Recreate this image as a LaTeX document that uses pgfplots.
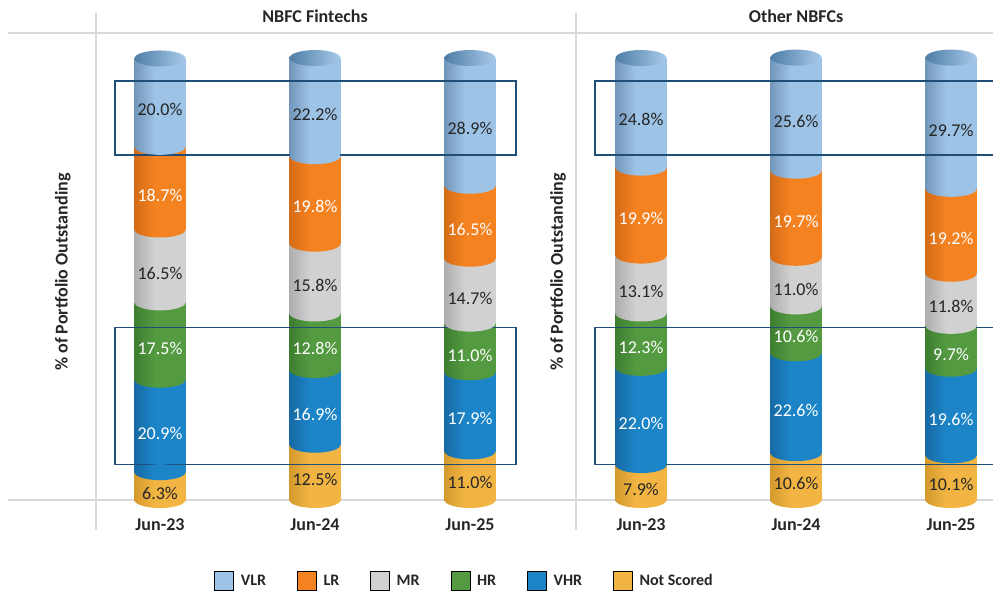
\documentclass[border=0pt]{standalone}
\usepackage{pgfplots}
\pgfplotsset{compat=1.18}
\usepackage{pgfplotstable}
\usepackage{fontspec}
\setmainfont{Carlito}

\definecolor{vlr}{HTML}{9DC3E6}\definecolor{vlrD}{HTML}{7397BA}
\definecolor{lr}{HTML}{F58220}\definecolor{lrD}{HTML}{D46C17}
\definecolor{mr}{HTML}{D0D1D0}\definecolor{mrD}{HTML}{ADAEAD}
\definecolor{hr}{HTML}{539A41}\definecolor{hrD}{HTML}{3F7E30}
\definecolor{vhr}{HTML}{1C85C8}\definecolor{vhrD}{HTML}{176BA5}
\definecolor{ns}{HTML}{F2B544}\definecolor{nsD}{HTML}{D49A2C}
\definecolor{capD}{HTML}{4F7EA6}\definecolor{capL}{HTML}{A8CAEA}
\definecolor{gridc}{HTML}{D9D9D9}
\definecolor{boxc}{HTML}{1F4E79}
\definecolor{txt}{HTML}{262626}

% left side darker, rest flat
\newcommand\cylshade[3]{\pgfdeclarehorizontalshading{#1}{100bp}{color(0bp)=(#3); color(25bp)=(#3); color(45bp)=(#2); color(75bp)=(#2); color(100bp)=(#2)}}
\cylshade{shVLR}{vlr}{vlrD}
\cylshade{shLR}{lr}{lrD}
\cylshade{shMR}{mr}{mrD}
\cylshade{shHR}{hr}{hrD}
\cylshade{shVHR}{vhr}{vhrD}
\cylshade{shNS}{ns}{nsD}
\pgfdeclarehorizontalshading{shCAP}{100bp}{color(0bp)=(capD); color(25bp)=(capD); color(75bp)=(capL); color(100bp)=(capL)}

\tikzset{cylsh/.code={\def\cylsh{#1}}}
\def\cylsh{shVLR}
\pgfdeclareplotmark{cyl}{%
  \pgfpathellipse{\pgfpointorigin}{\pgfqpoint{25.5pt}{0pt}}{\pgfqpoint{0pt}{8pt}}%
  \pgfshadepath{\cylsh}{0}%
  \pgfusepath{discard}}

\pgfplotstableread{
x NS VHR HR MR LR VLR
0 6.3 20.9 17.5 16.5 18.7 20.0
1 12.5 16.9 12.8 15.8 19.8 22.2
2 11.0 17.9 11.0 14.7 16.5 28.9
}\fintech
\pgfplotstableread{
x NS VHR HR MR LR VLR
0 7.9 22.0 12.3 13.1 19.9 24.8
1 10.6 22.6 10.6 11.0 19.7 25.6
2 10.1 19.6 9.7 11.8 19.2 29.7
}\others

\newcommand\lblfont{\fontsize{18}{20}\selectfont}
\pgfplotsset{
  cylbar/.style={ybar, bar width=51pt, bar shift=0pt, draw=none, shade, shading=#1},
  cylcap/.style={only marks, mark=cyl, cylsh=#1},
  cyllab/.style={draw=none, mark=none, point meta=explicit,
    nodes near coords={\pgfmathprintnumber[fixed,fixed zerofill,precision=1,assume math mode=true]{\pgfplotspointmeta}\%},
    every node near coord/.append style={anchor=center, yshift=-7pt, text=#1, font=\lblfont}},
  panel/.style={scale only axis, width=480pt, height=467pt, anchor=south west,
    ymin=0, ymax=105.66, clip=false,
    axis line style={draw=none}, major tick length=0pt, ytick=\empty,
    xtick={0,1,2}, xticklabels={Jun-23,Jun-24,Jun-25},
    xticklabel style={font=\bfseries\lblfont, text=txt, anchor=center, yshift=-25pt},
    ylabel={\% of Portfolio Outstanding},
    ylabel style={font=\bfseries\lblfont, text=txt, anchor=center}},
}

% one cylinder (category #2 of table #1), top segment first
\newcommand\cylone[2]{%
  \addplot[cylbar=shVLR, restrict x to domain=#2:#2] table[x=x, y expr=\thisrow{NS}+\thisrow{VHR}+\thisrow{HR}+\thisrow{MR}+\thisrow{LR}+\thisrow{VLR}]{#1};
  \addplot[cylcap=shCAP, restrict x to domain=#2:#2] table[x=x, y expr=\thisrow{NS}+\thisrow{VHR}+\thisrow{HR}+\thisrow{MR}+\thisrow{LR}+\thisrow{VLR}]{#1};
  \addplot[cylbar=shLR, restrict x to domain=#2:#2] table[x=x, y expr=\thisrow{NS}+\thisrow{VHR}+\thisrow{HR}+\thisrow{MR}+\thisrow{LR}]{#1};
  \addplot[cylcap=shVLR, restrict x to domain=#2:#2] table[x=x, y expr=\thisrow{NS}+\thisrow{VHR}+\thisrow{HR}+\thisrow{MR}+\thisrow{LR}]{#1};
  \addplot[cylbar=shMR, restrict x to domain=#2:#2] table[x=x, y expr=\thisrow{NS}+\thisrow{VHR}+\thisrow{HR}+\thisrow{MR}]{#1};
  \addplot[cylcap=shLR, restrict x to domain=#2:#2] table[x=x, y expr=\thisrow{NS}+\thisrow{VHR}+\thisrow{HR}+\thisrow{MR}]{#1};
  \addplot[cylbar=shHR, restrict x to domain=#2:#2] table[x=x, y expr=\thisrow{NS}+\thisrow{VHR}+\thisrow{HR}]{#1};
  \addplot[cylcap=shMR, restrict x to domain=#2:#2] table[x=x, y expr=\thisrow{NS}+\thisrow{VHR}+\thisrow{HR}]{#1};
  \addplot[cylbar=shVHR, restrict x to domain=#2:#2] table[x=x, y expr=\thisrow{NS}+\thisrow{VHR}]{#1};
  \addplot[cylcap=shHR, restrict x to domain=#2:#2] table[x=x, y expr=\thisrow{NS}+\thisrow{VHR}]{#1};
  \addplot[cylbar=shNS, restrict x to domain=#2:#2] table[x=x, y=NS]{#1};
  \addplot[cylcap=shVHR, restrict x to domain=#2:#2] table[x=x, y=NS]{#1};
  \addplot[cylcap=shNS, restrict x to domain=#2:#2] table[x=x, y expr=0]{#1};
}
\newcommand\cylinders[1]{%
  \cylone{#1}{0}\cylone{#1}{1}\cylone{#1}{2}%
  \addplot[cyllab=txt] table[x=x, y expr=\thisrow{NS}+\thisrow{VHR}+\thisrow{HR}+\thisrow{MR}+\thisrow{LR}+\thisrow{VLR}/2, meta=VLR]{#1};
  \addplot[cyllab=white] table[x=x, y expr=\thisrow{NS}+\thisrow{VHR}+\thisrow{HR}+\thisrow{MR}+\thisrow{LR}/2, meta=LR]{#1};
  \addplot[cyllab=txt] table[x=x, y expr=\thisrow{NS}+\thisrow{VHR}+\thisrow{HR}+\thisrow{MR}/2, meta=MR]{#1};
  \addplot[cyllab=white] table[x=x, y expr=\thisrow{NS}+\thisrow{VHR}+\thisrow{HR}/2, meta=HR]{#1};
  \addplot[cyllab=white] table[x=x, y expr=\thisrow{NS}+\thisrow{VHR}/2, meta=VHR]{#1};
  \addplot[cyllab=txt] table[x=x, y expr=\thisrow{NS}/2, meta=NS]{#1};
}

\begin{document}
\begin{tikzpicture}[x=1pt,y=1pt]
\useasboundingbox (0,0) rectangle (993,592);
\clip (0,0) rectangle (993,592);
% panel grid
\draw[gridc, line width=1.5pt] (8,559) -- (993,559) (8,92) -- (993,92)
  (96,579) -- (96,62) (576,579) -- (576,62);

\begin{axis}[panel, at={(96pt,92pt)}, xmin=-0.4129, xmax=2.6839,
  ylabel style={at={(rel axis cs:-0.069,0.488)}},
  legend columns=6,
  legend style={at={(0.768,-0.1734)}, anchor=center, draw=none, fill=none,
    font=\bfseries\fontsize{16}{18}\selectfont, text=txt,
    /tikz/every odd column/.append style={column sep=5pt},
    /tikz/every even column/.append style={column sep=29pt}},
  legend image code/.code={\fill[#1] (0pt,-9.5pt) rectangle (19pt,9.5pt);}]
  \addlegendimage{fill=vlr}\addlegendentry{VLR}
  \addlegendimage{fill=lr}\addlegendentry{LR}
  \addlegendimage{fill=mr}\addlegendentry{MR}
  \addlegendimage{fill=hr}\addlegendentry{HR}
  \addlegendimage{fill=vhr}\addlegendentry{VHR}
  \addlegendimage{fill=ns}\addlegendentry{Not Scored}
  \cylinders{\fintech}
  \draw[boxc, line width=1.3pt] (axis cs:-0.29,78.05) rectangle (axis cs:2.297,94.8);
  \draw[boxc, line width=1.3pt] (axis cs:-0.29,8.1) rectangle (axis cs:2.297,39.1);
  \node[font=\bfseries\lblfont, text=txt] at (axis cs:1,109.5) {NBFC Fintechs};
\end{axis}

\begin{axis}[panel, at={(576pt,92pt)}, xmin=-0.4194, xmax=2.677,
  ylabel style={at={(rel axis cs:-0.0375,0.488)}}]
  \cylinders{\others}
  \draw[boxc, line width=1.3pt] (axis cs:-0.297,78.05) rectangle (axis cs:2.4,94.8);
  \draw[boxc, line width=1.3pt] (axis cs:-0.297,8.1) rectangle (axis cs:2.4,39.1);
  \node[font=\bfseries\lblfont, text=txt] at (axis cs:1,109.5) {Other NBFCs};
\end{axis}
\end{tikzpicture}
\end{document}
